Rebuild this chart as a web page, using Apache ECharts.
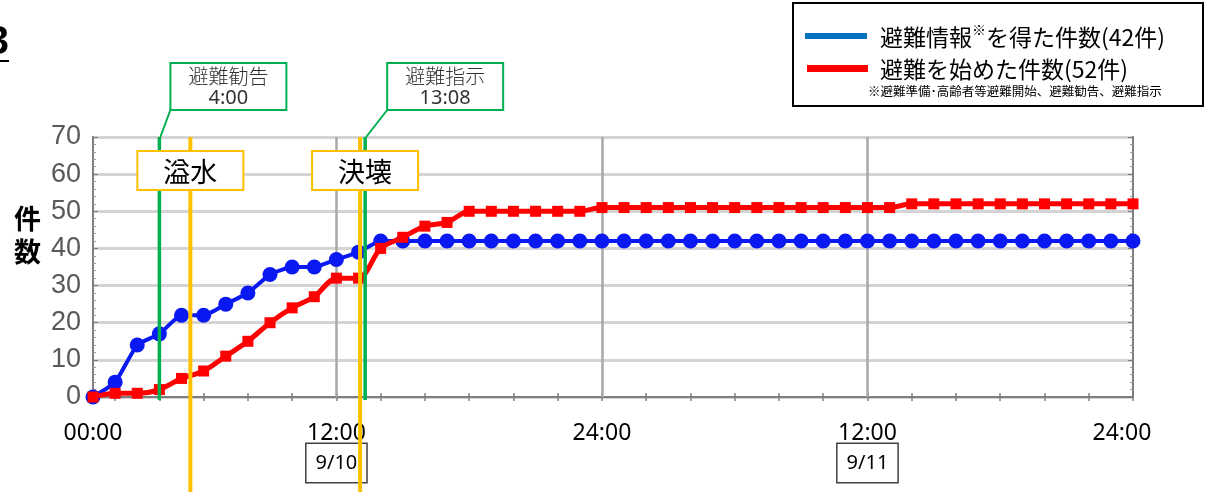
<!DOCTYPE html>
<html><head><meta charset="utf-8">
<script src="https://cdn.jsdelivr.net/npm/echarts@6/dist/echarts.min.js"></script>
<style>html,body{margin:0;padding:0;background:#fff}#c{width:1206px;height:492px}</style>
</head><body><div id="c"></div>
<script>
// ---- data ----
const hours = [1,2,3,4,5,6,7,8,9,10,11,12,13,14,15,16,17,18,19,20,21,22,23,24,25,26,27,28,29,30,31,32,33,34,35,36,37,38,39,40,41,42,43,44,45,46,47,48];
const infoCounts = [0,4,14,17,22,22,25,28,33,35,35,37,39,42,42,42,42,42,42,42,42,42,42,42,42,42,42,42,42,42,42,42,42,42,42,42,42,42,42,42,42,42,42,42,42,42,42,42];
const startCounts = [0,1,1,2,5,7,11,15,20,24,27,32,32,40,43,46,47,50,50,50,50,50,50,51,51,51,51,51,51,51,51,51,51,51,51,51,51,52,52,52,52,52,52,52,52,52,52,52];
const seriesNames = ['避難情報※を得た件数(42件)', '避難を始めた件数(52件)'];
const xLabelHours = [1, 12, 24, 36, 47.5];
const xLabelTexts = ['00:00', '12:00', '24:00', '12:00', '24:00'];
const dateLabels = ['', '9/10', '', '9/11', ''];
const xTickHours = [2,4,6,8,10,12,14,16,18,20,22,24,26,28,30,32,34,36,38,40,42,44,46,48];
const xGridHours = [12, 24, 36];
const alertHours = [4.0, 13.3];
const alertNames = ['避難勧告', '避難指示'];
const alertTimes = ['4:00', '13:08'];
const floodHours = [5.4, 13.07];
const floodNames = ['溢水', '決壊'];
const noteText = '※避難準備･高齢者等避難開始、避難勧告、避難指示';
const yAxisName = '件\n数';

// ---- layout (not data) ----
const calloutDx = [11, 22];
const floodDx = [0, 5];

const CJK = '"Noto Sans CJK JP"';
const chart = echarts.init(document.getElementById('c'), null, {renderer: 'canvas'});

function pairs(xs, ys) { return xs.map((x, i) => [x, ys[i]]); }

const option = {
  animation: false,
  backgroundColor: '#fff',
  grid: {left: 93, right: 73, top: 137, bottom: 95, show: true, borderColor: '#7f7f7f', borderWidth: 2},
  xAxis: [{
    type: 'value', min: 1, max: 48, position: 'bottom',
    axisLine: {show: true, lineStyle: {color: '#7f7f7f', width: 2}},
    axisTick: {show: true, inside: true, length: 4, customValues: xTickHours, lineStyle: {color: '#7f7f7f', width: 1.5}},
    splitLine: {show: false},
    axisLabel: {
      customValues: xLabelHours, margin: 18,
      formatter: function (v) {
        const i = xLabelHours.indexOf(v);
        if (i < 0) return '';
        return '{t|' + xLabelTexts[i] + '}' + (dateLabels[i] ? '\n{d|' + dateLabels[i] + '}' : '');
      },
      rich: {
        t: {fontSize: 23, fontFamily: 'Noto Sans', color: '#000', lineHeight: 36},
        d: {fontSize: 20, fontFamily: 'Noto Sans', color: '#000', lineHeight: 24, padding: [9, 9, 9, 9],
            borderColor: '#404040', borderWidth: 1.5, backgroundColor: '#fff'}
      }
    }
  }, {
    type: 'value', min: 1, max: 48, position: 'top',
    axisLine: {show: true, lineStyle: {color: '#7f7f7f', width: 2}},
    axisTick: {show: true, inside: true, length: 4, customValues: xTickHours, lineStyle: {color: '#7f7f7f', width: 1.5}},
    axisLabel: {show: false}, splitLine: {show: false}
  }],
  yAxis: [{
    type: 'value', min: 0, max: 70, interval: 10, position: 'left',
    axisLine: {show: true, lineStyle: {color: '#7f7f7f', width: 2}},
    axisTick: {show: true, inside: true, length: 5, lineStyle: {color: '#7f7f7f'}},
    minorTick: {show: true, splitNumber: 5, length: 3, lineStyle: {color: '#9a9a9a'}},
    axisLabel: {color: '#595959', fontSize: 27, fontFamily: 'Liberation Sans', margin: 12},
    splitLine: {show: true, lineStyle: {color: '#d4d4d4', width: 3}}
  }, {
    type: 'value', min: 0, max: 70, interval: 10, position: 'right',
    axisLine: {show: true, lineStyle: {color: '#7f7f7f', width: 2}},
    axisTick: {show: true, inside: true, length: 5, lineStyle: {color: '#7f7f7f'}},
    minorTick: {show: true, splitNumber: 5, length: 3, lineStyle: {color: '#9a9a9a'}},
    axisLabel: {show: false}, splitLine: {show: false}
  }],
  series: [{
    type: 'line', name: 'grid12', data: [], silent: true, z: 1,
    markLine: {
      silent: true, symbol: ['none', 'none'], z: 1, animation: false,
      label: {show: false},
      lineStyle: {color: '#a9a9a9', width: 2.5, type: 'solid'},
      emphasis: {disabled: true},
      data: xGridHours.map(h => ({xAxis: h}))
    }
  }, {
    type: 'line', name: seriesNames[0], data: pairs(hours, infoCounts), z: 3,
    symbol: 'circle', symbolSize: 15, smooth: 0.15,
    itemStyle: {color: '#0a18f2'}, lineStyle: {color: '#0a18f2', width: 4}
  }, {
    type: 'line', name: seriesNames[1], data: pairs(hours, startCounts), z: 4,
    symbol: 'rect', symbolSize: 11, smooth: 0.3,
    itemStyle: {color: '#ff0000'}, lineStyle: {color: '#ff0000', width: 5}
  }, {
    type: 'custom', name: 'alerts', z: 10, silent: true, clip: false,
    data: alertHours.map((h, i) => [h, i]), encode: {x: 0, y: 1},
    renderItem: function (params, api) {
      const h = api.value(0), i = api.value(1);
      const top = api.coord([h, 70]), bot = api.coord([h, 0]);
      const x = top[0];
      const bx = x + calloutDx[i], bw = 116, by = top[1] - 74, bh = 47;
      return {type: 'group', children: [
        {type: 'line', shape: {x1: x, y1: top[1], x2: x, y2: bot[1] + 3}, style: {stroke: '#00b050', lineWidth: 3.5}},
        {type: 'line', shape: {x1: x + 1, y1: top[1], x2: bx, y2: by + bh}, style: {stroke: '#00b050', lineWidth: 2}},
        {type: 'rect', shape: {x: bx, y: by, width: bw, height: bh}, style: {fill: '#fff', stroke: '#00b050', lineWidth: 2}},
        {type: 'text', style: {text: alertNames[i], x: bx + bw / 2, y: by + 13, align: 'center', verticalAlign: 'middle',
          font: '300 20px ' + CJK, fill: '#333'}},
        {type: 'text', style: {text: alertTimes[i], x: bx + bw / 2, y: by + 35, align: 'center', verticalAlign: 'middle',
          font: '20px "Noto Sans"', fill: '#333'}}
      ]};
    }
  }, {
    type: 'custom', name: 'floods', z: 11, silent: true, clip: false,
    data: floodHours.map((h, i) => [h, i]), encode: {x: 0, y: 1},
    renderItem: function (params, api) {
      const h = api.value(0), i = api.value(1);
      const top = api.coord([h, 70]);
      const x = top[0];
      const cx = x + floodDx[i], bw = 106, by = top[1] + 14, bh = 39;
      return {type: 'group', children: [
        {type: 'line', shape: {x1: x, y1: top[1], x2: x, y2: api.getHeight()}, style: {stroke: '#ffc000', lineWidth: 4}},
        {type: 'rect', shape: {x: cx - bw / 2, y: by, width: bw, height: bh}, style: {fill: '#fff', stroke: '#ffc000', lineWidth: 2}},
        {type: 'text', style: {text: floodNames[i], x: cx, y: by + bh / 2 + 1, align: 'center', verticalAlign: 'middle',
          font: '27px ' + CJK, fill: '#000'}}
      ]};
    }
  }],
  graphic: [
    {type: 'text', x: 9, y: 43, silent: true, style: {text: '3', font: 'bold 40px "Liberation Sans"', fill: '#000',
      align: 'right', verticalAlign: 'middle', textAlign: 'right', textVerticalAlign: 'middle'}},
    {type: 'rect', silent: true, shape: {x: 0, y: 60, width: 9, height: 2}, style: {fill: '#000'}},
    {type: 'text', x: 14, y: 202, silent: true, style: {text: yAxisName, font: 'bold 27px ' + CJK, lineHeight: 33, fill: '#000',
      align: 'left', verticalAlign: 'top', textAlign: 'left', textVerticalAlign: 'top'}},
    {type: 'rect', silent: true, shape: {x: 793, y: 3, width: 410, height: 103}, style: {fill: '#fff', stroke: '#000', lineWidth: 2}},
    {type: 'rect', silent: true, shape: {x: 805, y: 33, width: 62, height: 6}, style: {fill: '#0070c0'}},
    {type: 'rect', silent: true, shape: {x: 807, y: 65, width: 61, height: 7}, style: {fill: '#ff0000'}},
    {type: 'text', x: 880, y: 37, silent: true, style: {
      text: '{a|避難情報}{s|※}{a|を得た件数(42件)}',
      align: 'left', verticalAlign: 'middle', textAlign: 'left', textVerticalAlign: 'middle',
      rich: {a: {fontSize: 23, fontFamily: 'Noto Sans CJK JP', color: '#000', lineHeight: 28},
             s: {fontSize: 14, fontFamily: 'Noto Sans CJK JP', color: '#000', lineHeight: 28, verticalAlign: 'top'}}}},
    {type: 'text', x: 880, y: 69, silent: true, style: {text: seriesNames[1], font: '23px ' + CJK, fill: '#000',
      align: 'left', verticalAlign: 'middle', textAlign: 'left', textVerticalAlign: 'middle'}},
    {type: 'text', x: 868, y: 91, silent: true, style: {text: noteText, font: '12.5px ' + CJK, fill: '#000',
      align: 'left', verticalAlign: 'middle', textAlign: 'left', textVerticalAlign: 'middle'}}
  ]
};
chart.setOption(option);
</script>
</body></html>
